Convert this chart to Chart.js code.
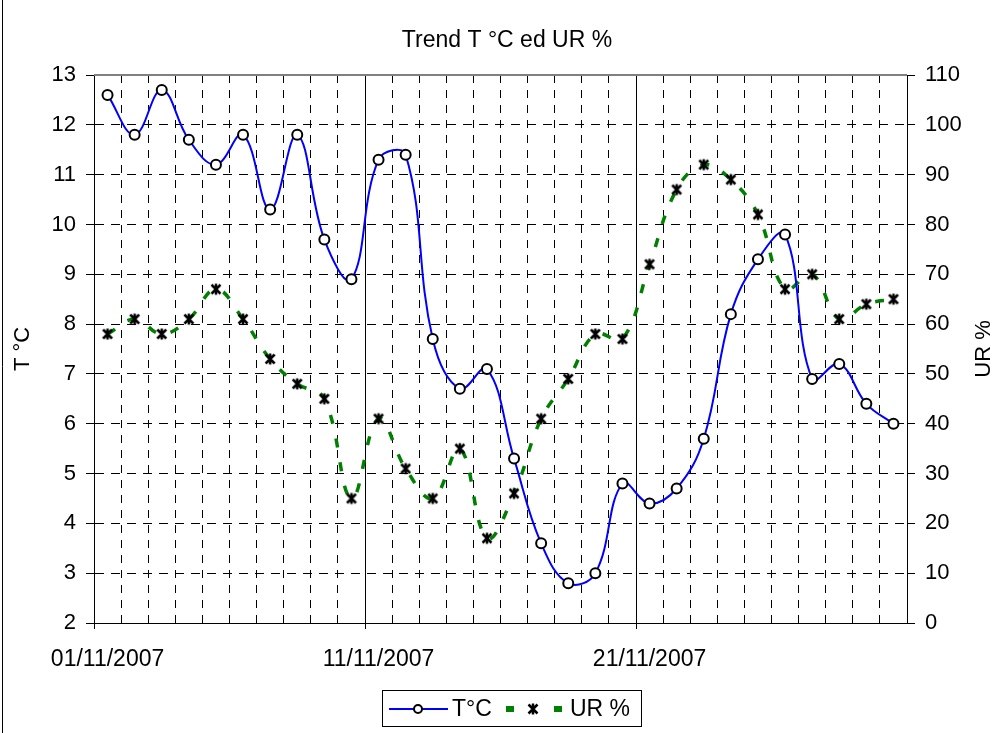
<!DOCTYPE html>
<html>
<head>
<meta charset="utf-8">
<title>Trend T °C ed UR %</title>
<script src="https://cdn.jsdelivr.net/npm/chart.js@4.4.0/dist/chart.umd.min.js"></script>
<style>
  html, body { margin: 0; padding: 0; background: #fff; }
  canvas { display: block; }
</style>
</head>
<body>
<canvas id="myChart" width="996" height="733"></canvas>
<script>
// days of the month (one point per day)
const days = [
  '01/11/2007', '02/11/2007', '03/11/2007', '04/11/2007', '05/11/2007',
  '06/11/2007', '07/11/2007', '08/11/2007', '09/11/2007', '10/11/2007',
  '11/11/2007', '12/11/2007', '13/11/2007', '14/11/2007', '15/11/2007',
  '16/11/2007', '17/11/2007', '18/11/2007', '19/11/2007', '20/11/2007',
  '21/11/2007', '22/11/2007', '23/11/2007', '24/11/2007', '25/11/2007',
  '26/11/2007', '27/11/2007', '28/11/2007', '29/11/2007', '30/11/2007'
];
// only these dates get a label on the x axis
const shownDays = ['01/11/2007', '11/11/2007', '21/11/2007'];

const tempValues = [
  12.6, 11.8, 12.7, 11.7, 11.2, 11.8, 10.3, 11.8, 9.7, 8.9,
  11.3, 11.4, 7.7, 6.7, 7.1, 5.3, 3.6, 2.8, 3.0, 4.8,
  4.4, 4.7, 5.7, 8.2, 9.3, 9.8, 6.9, 7.2, 6.4, 6.0
];
const humidityValues = [
  58, 61, 58, 61, 67, 61, 53, 48, 45, 25,
  41, 31, 25, 35, 17, 26, 41, 49, 58, 57,
  72, 87, 92, 89, 82, 67, 70, 61, 64, 65
];

const tempRange = [2, 13];
const humidityRange = [0, 110];

const FONT = '"Liberation Sans", Arial, sans-serif';

// Excel-like "star" marker: an X with a vertical bar
function makeStarMarker() {
  const c = document.createElement('canvas');
  c.width = 14;
  c.height = 14;
  const g = c.getContext('2d');
  g.strokeStyle = '#000';
  g.lineWidth = 2.5;
  g.beginPath();
  g.moveTo(2.5, 2.5); g.lineTo(11.5, 11.5);
  g.moveTo(11.5, 2.5); g.lineTo(2.5, 11.5);
  g.moveTo(7, 1.5); g.lineTo(7, 12.5);
  g.stroke();
  return c;
}
const starMarker = makeStarMarker();

// title, axis titles, legend box and plot border, Excel style
const decorations = {
  id: 'decorations',
  afterDraw(chart) {
    const ctx = chart.ctx;
    const area = chart.chartArea;
    const midY = (area.top + area.bottom) / 2;
    ctx.save();

    // outer chart border (left edge)
    ctx.strokeStyle = '#000';
    ctx.lineWidth = 1;
    ctx.beginPath();
    ctx.moveTo(2.5, 0);
    ctx.lineTo(2.5, 733);
    ctx.stroke();

    // plot area top border
    ctx.strokeStyle = '#808080';
    ctx.lineWidth = 2;
    ctx.beginPath();
    ctx.moveTo(area.left, area.top);
    ctx.lineTo(area.right, area.top);
    ctx.stroke();

    ctx.fillStyle = '#000';
    ctx.font = '23px ' + FONT;
    ctx.textAlign = 'center';
    ctx.textBaseline = 'alphabetic';
    ctx.fillText('Trend T °C ed UR %', 507, 47);

    ctx.font = '22px ' + FONT;
    ctx.textBaseline = 'middle';
    ctx.save();
    ctx.translate(23, midY);
    ctx.rotate(-Math.PI / 2);
    ctx.fillText('T °C', 0, 0);
    ctx.restore();
    ctx.save();
    ctx.translate(984, midY);
    ctx.rotate(-Math.PI / 2);
    ctx.fillText('UR %', 0, 0);
    ctx.restore();

    // legend
    const ds = chart.data.datasets;
    const ly = 709;
    ctx.strokeStyle = '#000';
    ctx.lineWidth = 1;
    ctx.strokeRect(382.5, 690.5, 259, 36);

    ctx.strokeStyle = ds[0].borderColor;
    ctx.lineWidth = 2;
    ctx.beginPath();
    ctx.moveTo(389, ly);
    ctx.lineTo(448, ly);
    ctx.stroke();
    ctx.beginPath();
    ctx.arc(418, ly, 4, 0, Math.PI * 2);
    ctx.fillStyle = '#fff';
    ctx.fill();
    ctx.strokeStyle = '#000';
    ctx.stroke();

    ctx.fillStyle = ds[1].borderColor;
    ctx.fillRect(506, ly - 3, 8, 6);
    ctx.fillRect(554, ly - 3, 8, 6);
    ctx.drawImage(starMarker, 533 - 7, ly - 7);

    ctx.fillStyle = '#000';
    ctx.font = '23px ' + FONT;
    ctx.textAlign = 'left';
    ctx.fillText(ds[0].label, 452, ly + 1);
    ctx.fillText(ds[1].label, 570, ly + 1);

    ctx.restore();
  }
};

const ctx = document.getElementById('myChart').getContext('2d');

const data = {
  labels: days,
  datasets: [{
    label: 'T°C',
    data: tempValues,
    yAxisID: 'y',
    borderColor: '#0000ff',
    borderWidth: 2,
    tension: 0.4,
    pointRadius: 5,
    pointBorderWidth: 2,
    pointBorderColor: '#000',
    pointBackgroundColor: '#fff'
  }, {
    label: 'UR %',
    data: humidityValues,
    yAxisID: 'y1',
    borderColor: '#008000',
    borderWidth: 3.5,
    borderDash: [9, 15],
    tension: 0.4,
    pointStyle: starMarker,
    pointRadius: 7
  }]
};

const config = {
  type: 'line',
  data: data,
  plugins: [decorations],
  options: {
    responsive: false,
    animation: false,
    events: [],
    layout: {
      padding: { top: 75, left: 0, right: 0, bottom: 0 }
    },
    plugins: {
      legend: { display: false },
      title: { display: false },
      tooltip: { enabled: false }
    },
    scales: {
      x: {
        type: 'category',
        offset: true,
        grid: {
          offset: true,
          color: '#000',
          lineWidth: 1,
          tickLength: 6,
          tickColor: function(c) {
            return c.index % 10 === 0 ? '#000' : 'rgba(0,0,0,0)';
          }
        },
        border: {
          color: '#000',
          width: 1,
          dash: function(c) {
            return c.index % 10 === 0 ? [] : [8, 7];
          }
        },
        ticks: {
          autoSkip: false,
          maxRotation: 0,
          minRotation: 0,
          padding: 17,
          color: '#000',
          font: { family: FONT, size: 23 },
          callback: function(value, index) {
            return shownDays.includes(days[index]) ? days[index] : '';
          }
        },
        afterFit: function(scale) { scale.height = 110; }
      },
      y: {
        position: 'left',
        min: tempRange[0],
        max: tempRange[1],
        grid: {
          color: '#000',
          lineWidth: 1,
          tickLength: 8,
          tickColor: '#000'
        },
        border: { color: '#000', width: 1, dash: [9, 7] },
        ticks: {
          stepSize: 1,
          padding: 10,
          color: '#000',
          font: { family: FONT, size: 22 }
        },
        afterFit: function(scale) { scale.width = 94; }
      },
      y1: {
        position: 'right',
        min: humidityRange[0],
        max: humidityRange[1],
        grid: {
          drawOnChartArea: false,
          tickLength: 8,
          tickColor: '#000'
        },
        border: { color: '#000', width: 1 },
        ticks: {
          stepSize: 10,
          padding: 10,
          color: '#000',
          font: { family: FONT, size: 22 }
        },
        afterFit: function(scale) { scale.width = 89; }
      }
    }
  }
};

const myChart = new Chart(ctx, config);
</script>
</body>
</html>
